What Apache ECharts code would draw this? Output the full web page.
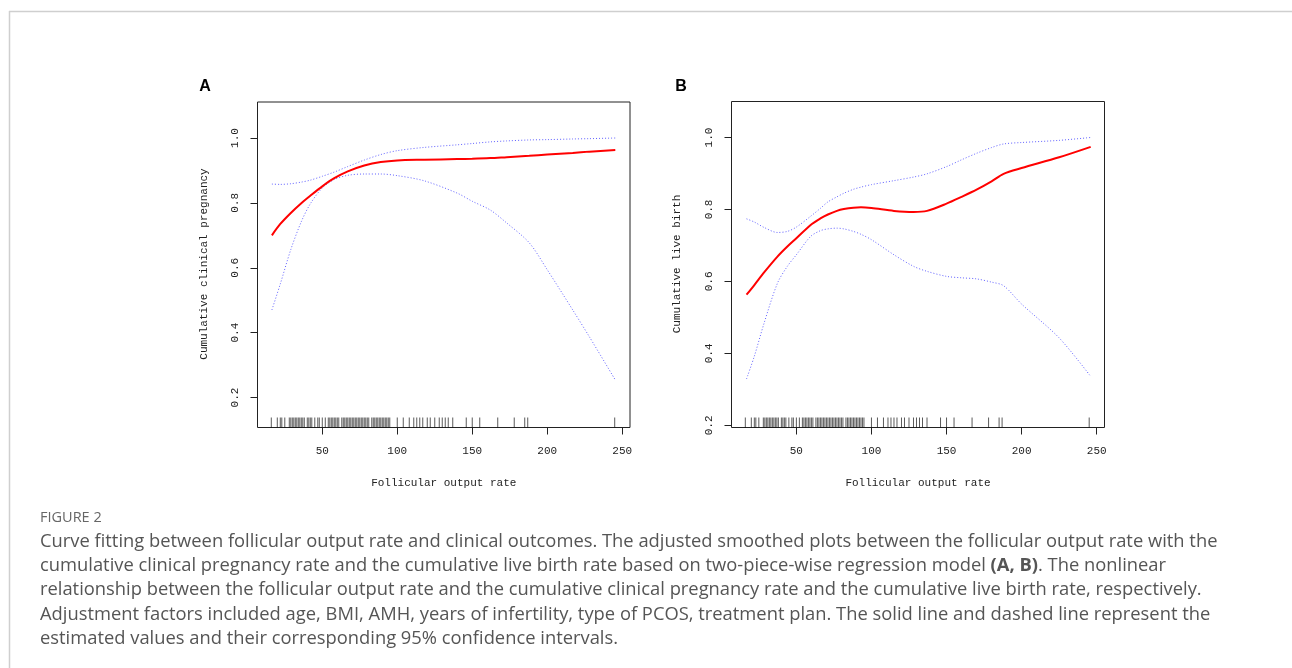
<!DOCTYPE html>
<html>
<head>
<meta charset="utf-8">
<script src="https://cdn.jsdelivr.net/npm/echarts@6/dist/echarts.min.js"></script>
<style>
html,body{margin:0;padding:0;background:#fff;}
#chart{width:1292px;height:668px;}
</style>
</head>
<body>
<div id="chart"></div>
<script>
// ---------- data ----------
const xTicks = [50, 100, 150, 200, 250];
const yTicks = [0.2, 0.4, 0.6, 0.8, 1.0];

// Panel A: cumulative clinical pregnancy
const xA = [16.4, 22, 29, 36, 42, 50, 58, 67, 78, 89, 100, 118, 140, 150, 162, 173, 188, 200, 217, 228, 245.4];
const fitA = [0.700, 0.735, 0.769, 0.799, 0.822, 0.851, 0.876, 0.897, 0.915, 0.926, 0.931, 0.933, 0.935, 0.936, 0.938, 0.941, 0.945, 0.949, 0.954, 0.958, 0.963];
const upperA = [0.858, 0.857, 0.859, 0.864, 0.870, 0.882, 0.895, 0.912, 0.932, 0.949, 0.961, 0.971, 0.979, 0.983, 0.988, 0.991, 0.994, 0.995, 0.997, 0.998, 1.000];
const lowerA = [0.470, 0.550, 0.656, 0.742, 0.797, 0.846, 0.872, 0.885, 0.889, 0.889, 0.884, 0.868, 0.830, 0.805, 0.778, 0.738, 0.677, 0.594, 0.470, 0.388, 0.254];

// Panel B: cumulative live birth
const xB = [16.8, 22, 28.5, 37.4, 44, 50, 59.5, 66, 71, 77, 81.6, 88, 93, 100, 115, 128, 137, 150, 160, 170, 180, 188, 200, 225, 246];
const fitB = [0.563, 0.590, 0.625, 0.669, 0.697, 0.720, 0.757, 0.775, 0.786, 0.796, 0.801, 0.805, 0.806, 0.804, 0.796, 0.793, 0.796, 0.816, 0.835, 0.855, 0.878, 0.899, 0.915, 0.945, 0.974];
const upperB = [0.774, 0.765, 0.750, 0.736, 0.739, 0.751, 0.781, 0.803, 0.821, 0.835, 0.845, 0.856, 0.862, 0.869, 0.880, 0.890, 0.899, 0.919, 0.938, 0.956, 0.972, 0.982, 0.986, 0.992, 1.000];
const lowerB = [0.329, 0.392, 0.484, 0.595, 0.642, 0.674, 0.725, 0.741, 0.746, 0.748, 0.746, 0.739, 0.731, 0.716, 0.674, 0.642, 0.628, 0.614, 0.610, 0.607, 0.598, 0.588, 0.537, 0.443, 0.336];

// Rug (observed follicular output rate values)
const rugX = [16, 20, 22, 23, 25, 28, 29, 30, 31, 32, 33, 34, 35, 36, 37, 38, 40, 41, 42, 43, 45, 47, 48, 50, 52, 54, 55, 56, 57, 58, 59, 60, 61, 63, 64, 65, 66, 67, 68, 69, 70, 71, 72, 73, 74, 75, 76, 77, 78, 79, 80, 81, 83, 84, 85, 86, 87, 88, 89, 90, 91, 92, 93, 94, 95, 100, 104, 108, 111, 113, 115, 117, 120, 122, 125, 128, 130, 132, 134, 137, 146, 150, 155, 167, 178, 185, 187, 245];

const panelTitles = ['A', 'B'];
const yTitles = ['Cumulative clinical pregnancy', 'Cumulative live birth'];
const xTitle = 'Follicular output rate';

const captionHead = 'FIGURE 2';
const captionLines = [
  'Curve fitting between follicular output rate and clinical outcomes. The adjusted smoothed plots between the follicular output rate with the',
  'cumulative clinical pregnancy rate and the cumulative live birth rate based on two-piece-wise regression model {b|(A, B)}. The nonlinear',
  'relationship between the follicular output rate and the cumulative clinical pregnancy rate and the cumulative live birth rate, respectively.',
  'Adjustment factors included age, BMI, AMH, years of infertility, type of PCOS, treatment plan. The solid line and dashed line represent the',
  'estimated values and their corresponding 95% confidence intervals.'
];

// ---------- chart ----------
const MONO = '"Liberation Mono", "DejaVu Sans Mono", monospace';
const SANS = '"Open Sans", "Noto Sans", sans-serif';
const yRanges = [[0.1075, 1.111], [0.194, 1.1]];
const grids = [
  {left: 257.5, top: 102, width: 372.5, height: 325.5},
  {left: 731.5, top: 101.5, width: 373, height: 326}
];

function zip(xs, ys) { return xs.map((x, i) => [x, ys[i]]); }

const xAxes = grids.map((g, i) => ({
  type: 'value', gridIndex: i, min: 6.8, max: 255.2,
  axisLine: {show: false},
  splitLine: {show: false},
  axisTick: {show: true, inside: false, length: 7, customValues: xTicks, lineStyle: {color: '#222'}},
  axisLabel: {show: true, margin: 18, customValues: xTicks, fontFamily: MONO, fontSize: 11, color: '#222'}
}));
const yAxes = grids.map((g, i) => ({
  type: 'value', gridIndex: i, min: yRanges[i][0], max: yRanges[i][1],
  axisLine: {show: false},
  splitLine: {show: false},
  axisTick: {show: true, inside: false, length: 7, customValues: yTicks, lineStyle: {color: '#222'}},
  axisLabel: {show: true, margin: 17, rotate: 90, customValues: yTicks, fontFamily: MONO, fontSize: 11, color: '#222',
    formatter: v => v.toFixed(1)}
}));

const panels = [
  {x: xA, fit: fitA, lo: lowerA, up: upperA},
  {x: xB, fit: fitB, lo: lowerB, up: upperB}
];
const series = [];
panels.forEach((p, i) => {
  const ciStyle = {color: '#6262ff', width: 1, type: [1, 2]};
  const common = {type: 'line', xAxisIndex: i, yAxisIndex: i, smooth: 0.3, showSymbol: false};
  series.push(Object.assign({data: zip(p.x, p.up), lineStyle: ciStyle, z: 2}, common));
  series.push(Object.assign({data: zip(p.x, p.lo), lineStyle: ciStyle, z: 2}, common));
  series.push(Object.assign({data: zip(p.x, p.fit), lineStyle: {color: '#ff0000', width: 2}, z: 3}, common));
  series.push({type: 'scatter', xAxisIndex: i, yAxisIndex: i, data: rugX.map(v => [v, yRanges[i][0]]),
    symbol: 'rect', symbolSize: [1, 10], symbolOffset: [0, -5],
    itemStyle: {color: '#000', opacity: 0.65}, silent: true, clip: false, z: 1});
});

const graphic = [];
// frame lines
graphic.push({type: 'line', shape: {x1: 9, y1: 11.5, x2: 1292, y2: 11.5}, style: {stroke: '#cfcfcf', lineWidth: 1.5}, silent: true});
graphic.push({type: 'line', shape: {x1: 9.5, y1: 11, x2: 9.5, y2: 668}, style: {stroke: '#cfcfcf', lineWidth: 1.5}, silent: true});
// panel letters
const letterX = [205, 681];
panelTitles.forEach((t, i) => {
  graphic.push({type: 'text', x: letterX[i], y: 87, style: {text: t, fontFamily: 'Liberation Sans, Arial, sans-serif', fontWeight: 'bold', fontSize: 16, fill: '#000', align: 'center', verticalAlign: 'middle'}});
});
// axis titles
const yTitlePos = [[204, 264], [677, 264]];
yTitles.forEach((t, i) => {
  graphic.push({type: 'text', x: yTitlePos[i][0], y: yTitlePos[i][1], rotation: Math.PI / 2,
    style: {text: t, fontFamily: MONO, fontSize: 11, fill: '#222', align: 'center', verticalAlign: 'middle'}});
  const g = grids[i];
  graphic.push({type: 'text', x: g.left + g.width / 2, y: 483.5,
    style: {text: xTitle, fontFamily: MONO, fontSize: 11, fill: '#222', align: 'center', verticalAlign: 'middle'}});
});
// caption
graphic.push({type: 'text', x: 40, y: 518, style: {text: captionHead, fontFamily: SANS, fontSize: 14.5, fill: '#666', verticalAlign: 'middle'}});
captionLines.forEach((line, i) => {
  graphic.push({type: 'text', x: 40, y: 541.5 + i * 24.3, style: {
    text: line, fontFamily: SANS, fontSize: 18.35, fill: '#555', verticalAlign: 'middle',
    rich: {b: {fontFamily: SANS, fontSize: 18.35, fontWeight: 'bold', fill: '#555'}}
  }});
});

const chart = echarts.init(document.getElementById('chart'), null, {renderer: 'canvas'});
chart.setOption({
  animation: false,
  backgroundColor: '#ffffff',
  grid: grids.map(g => Object.assign({show: true, borderColor: '#222', borderWidth: 1, backgroundColor: 'transparent', containLabel: false}, g)),
  xAxis: xAxes,
  yAxis: yAxes,
  series: series,
  graphic: graphic
});
</script>
</body>
</html>
